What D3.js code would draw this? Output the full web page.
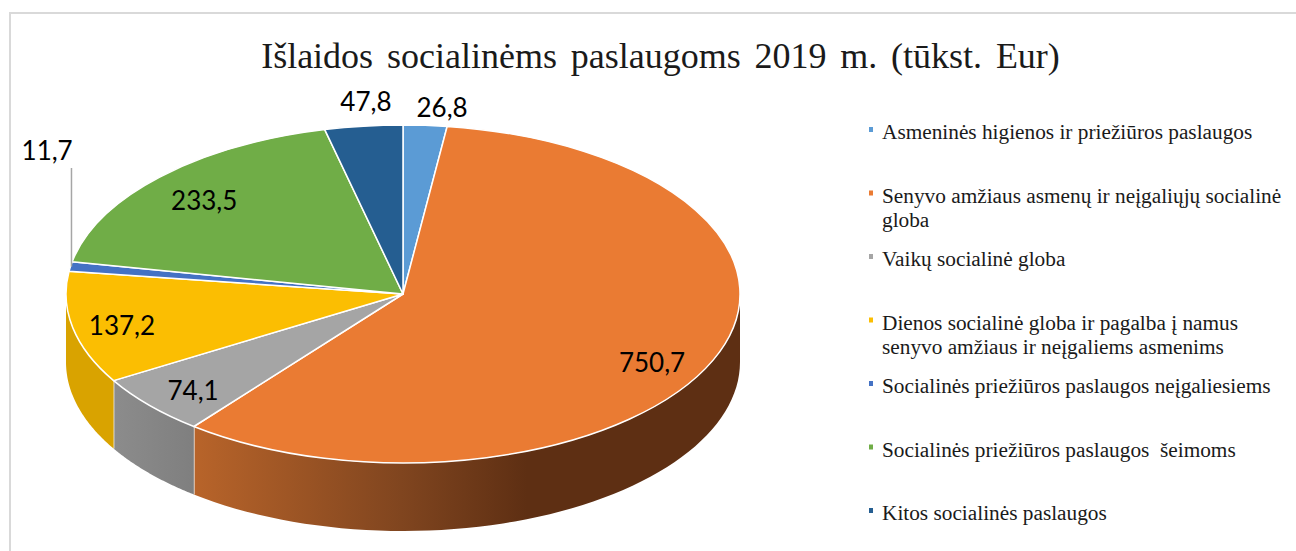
<!DOCTYPE html>
<html>
<head>
<meta charset="utf-8">
<script src="https://cdn.jsdelivr.net/npm/d3@7"></script>
<style>
html, body { margin: 0; padding: 0; background: #fff; overflow: hidden; }
svg { display: block; }
</style>
</head>
<body>
<div class="chart"></div>
<script>
// chart values, clockwise from 12 o'clock
const categories = [
    "Asmeninės higienos ir priežiūros paslaugos",
    "Senyvo amžiaus asmenų ir neįgaliųjų socialinė globa",
    "Vaikų socialinė globa",
    "Dienos socialinė globa ir pagalba į namus senyvo amžiaus ir neįgaliems asmenims",
    "Socialinės priežiūros paslaugos neįgaliesiems",
    "Socialinės priežiūros paslaugos  šeimoms",
    "Kitos socialinės paslaugos"
];
const values = [26.8, 750.7, 74.1, 137.2, 11.7, 233.5, 47.8];
const legendLines = [
    ["Asmeninės higienos ir priežiūros paslaugos"],
    ["Senyvo amžiaus asmenų ir neįgaliųjų socialinė", "globa"],
    ["Vaikų socialinė globa"],
    ["Dienos socialinė globa ir pagalba į namus", "senyvo amžiaus ir neįgaliems asmenims"],
    ["Socialinės priežiūros paslaugos neįgaliesiems"],
    ["Socialinės priežiūros paslaugos  šeimoms"],
    ["Kitos socialinės paslaugos"]
];
const colors = ["#5b9bd5", "#ea7b33", "#a5a5a5", "#fbbe02", "#4472c4", "#70ad47", "#255e91"];
const title = "Išlaidos socialinėms paslaugoms 2019 m. (tūkst. Eur)";

// layout
const width = 1296, height = 551;
const cx = 403, cy = 294, rx = 337, ry = 169, depth = 68;
// label centres in pie units (1 = rim of the ellipse)
const labelPos = [[0.116, -1.10], [0.739, 0.408], [-0.623, 0.574], [-0.834, 0.189],
    [-1.056, -0.846], [-0.59, -0.55], [-0.11, -1.136]];

const svg = d3.select(".chart").append("svg")
    .attr("width", width)
    .attr("height", height);

const xPie = d3.scaleLinear().domain([-1, 1]).range([cx - rx, cx + rx]);
const yPie = d3.scaleLinear().domain([-1, 1]).range([cy - ry, cy + ry]);
const rim = a => [xPie(Math.sin(a)), yPie(-Math.cos(a))];

// frame runs off the right and bottom of the picture
svg.append("rect")
    .attr("x", 10).attr("y", 13)
    .attr("width", 1300).attr("height", 560)
    .attr("fill", "#fff")
    .attr("stroke", "#d9d9d9")
    .attr("stroke-width", 2);

svg.append("text")
    .attr("x", 660.5).attr("y", 68)
    .attr("text-anchor", "middle")
    .style("font-family", "'Liberation Serif'")
    .style("font-size", "36px")
    .style("word-spacing", "4.8px")
    .attr("fill", "#1a1a1a")
    .text(title);

const pie = d3.pie().sort(null).value(d => d);
const slices = pie(values);

// side wall gradients
const defs = svg.append("defs");
function wallGradient(id, x1, x2, stops) {
    const g = defs.append("linearGradient")
        .attr("id", id)
        .attr("gradientUnits", "userSpaceOnUse")
        .attr("x1", x1).attr("x2", x2).attr("y1", 0).attr("y2", 0);
    stops.forEach(s => g.append("stop").attr("offset", s[0]).attr("stop-color", s[1]));
}
wallGradient("wall1", rim(slices[1].endAngle)[0], cx + rx,
    [[0, "#b8642a"], [0.38, "#80451f"], [0.61, "#5e2f13"], [1, "#5e2f13"]]);
wallGradient("wall2", rim(slices[3].endAngle)[0], rim(slices[1].endAngle)[0], [[0, "#939393"], [1, "#7f7f7f"]]);
const wallFill = { 1: "url(#wall1)", 2: "url(#wall2)", 3: "#d9a300" };

// walls: only the front half of the rim is visible
const line = d3.line();
slices.forEach((s, i) => {
    const a0 = Math.max(s.startAngle, Math.PI / 2);
    const a1 = Math.min(s.endAngle, 3 * Math.PI / 2);
    if (a1 <= a0) return;
    const top = d3.range(0, 61).map(k => rim(a0 + (a1 - a0) * k / 60));
    const bottom = top.map(p => [p[0], p[1] + depth]).reverse();
    svg.append("path")
        .attr("d", line(top.concat(bottom)) + "Z")
        .attr("fill", wallFill[i]);
    // white seam on the right-hand cut of the wall
    const edge = rim(a1);
    if (a1 < 3 * Math.PI / 2) {
        svg.append("line")
            .attr("x1", edge[0]).attr("x2", edge[0])
            .attr("y1", edge[1]).attr("y2", edge[1] + depth)
            .attr("stroke", "#f2f2f2")
            .attr("stroke-width", 1.5);
    }
});

// top face: a circular arc squashed into the ellipse
const arc = d3.arc().innerRadius(0).outerRadius(rx);
svg.append("g")
    .attr("transform", `translate(${cx},${cy}) scale(1,${ry / rx})`)
    .selectAll("path")
    .data(slices)
    .join("path")
    .attr("d", arc)
    .attr("fill", (d, i) => colors[i])
    .attr("stroke", "#fff")
    .attr("stroke-width", 1.5)
    .attr("stroke-linejoin", "round")
    .style("vector-effect", "non-scaling-stroke");

// leader for the thin slice
const leaderFrom = rim((slices[4].startAngle + slices[4].endAngle) / 2);
svg.append("line")
    .attr("x1", leaderFrom[0] + 1).attr("x2", leaderFrom[0] + 1)
    .attr("y1", leaderFrom[1]).attr("y2", yPie(labelPos[4][1]) + 17)
    .attr("stroke", "#a6a6a6")
    .attr("stroke-width", 1.5);

// value labels
svg.append("g")
    .selectAll("text")
    .data(values)
    .join("text")
    .attr("x", (d, i) => xPie(labelPos[i][0]))
    .attr("y", (d, i) => yPie(labelPos[i][1]))
    .attr("dy", "0.35em")
    .attr("text-anchor", "middle")
    .style("font-family", "Lato")
    .style("font-size", "26px")
    .attr("fill", "#000")
    .text(d => String(d).replace(".", ","));

// legend
const legendY = d3.scaleLinear().domain([0, 6]).range([139, 520]);
const legend = svg.append("g")
    .selectAll("g")
    .data(legendLines)
    .join("g")
    .attr("transform", (d, i) => `translate(0,${legendY(i)})`);
legend.append("rect")
    .attr("x", 869).attr("y", -12)
    .attr("width", 4).attr("height", 5)
    .attr("fill", (d, i) => colors[i]);
legend.append("text")
    .style("font-family", "'Liberation Serif'")
    .style("font-size", "21.3px")
    .style("white-space", "pre")
    .attr("fill", "#1a1a1a")
    .selectAll("tspan")
    .data(d => d)
    .join("tspan")
    .attr("x", 882)
    .attr("dy", (d, i) => i ? 24 : 0)
    .text(d => d);
</script>
</body>
</html>
